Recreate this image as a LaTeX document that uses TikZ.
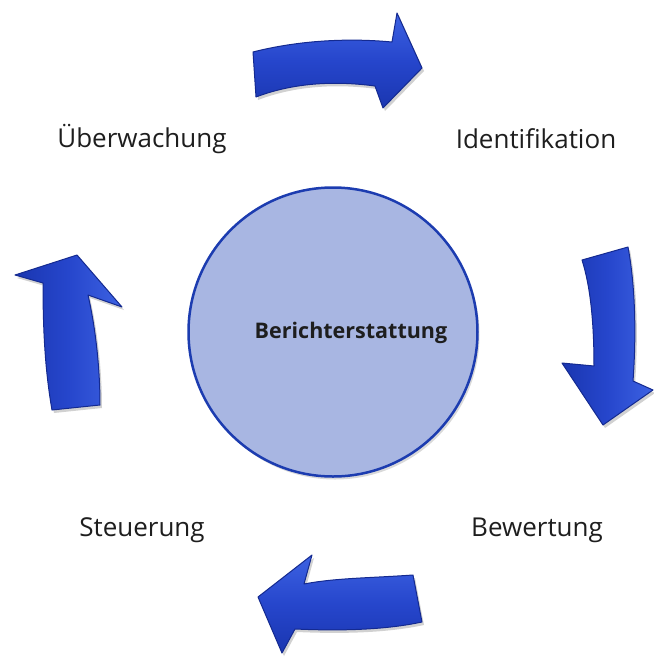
\documentclass[tikz,border=0pt]{standalone}
\usepackage{fontspec}
\setmainfont{Open Sans}
\usetikzlibrary{shadows}
\definecolor{arrowmid}{HTML}{2646CC}
\definecolor{arrowlight}{HTML}{3D62E2}
\definecolor{arrowdark}{HTML}{1A36B0}
\definecolor{arrowedge}{HTML}{142A90}
\definecolor{circfill}{HTML}{A8B6E2}
\definecolor{circedge}{HTML}{1C3CB0}
\definecolor{txt}{HTML}{1E1E1E}
\tikzset{
  bigarrow/.style={draw=arrowedge, line width=1pt, line join=round, top color=arrowlight, bottom color=arrowdark, middle color=arrowmid,
    drop shadow={shadow xshift=2pt, shadow yshift=-3pt, opacity=0.18, fill=black}},
  sidearrow/.style={bigarrow, left color=arrowdark, right color=arrowlight, middle color=arrowmid},
  label/.style={text=txt, font=\fontsize{26}{30}\selectfont, inner sep=0pt},
}
\begin{document}
\begin{tikzpicture}[x=1pt,y=-1pt]
\useasboundingbox (0,0) rectangle (654,657);
% circle
\node[circle, minimum size=289pt, fill=circfill, draw=circedge, line width=2.5pt, inner sep=0pt,
  drop shadow={shadow xshift=2pt, shadow yshift=-3pt, opacity=0.15, fill=black}] (center) at (333,332) {};
\node[text=txt, font=\bfseries\fontsize{21.5}{25}\selectfont, inner sep=0pt] (ber) at (351,333) {Berichterstattung};
% labels
\node[label] (ueb) at (142,139) {Überwachung};
\node[label] (ide) at (536,139) {Identifikation};
\node[label] (bew) at (537,530) {Bewertung};
\node[label] (ste) at (142,530) {Steuerung};
% top arrow
\path[bigarrow] (253,52) .. controls (300,40) and (350,38) .. (392,42)
  -- (397,13) -- (422,68) -- (383,108) -- (375,86)
  .. controls (330,80) and (290,84) .. (256,97) -- cycle;
% right arrow
\path[sidearrow] (582,260) -- (628,247)
  .. controls (636,290) and (636,340) .. (633,381)
  -- (653,390) -- (603,425) -- (562,363) -- (594,366)
  .. controls (594,320) and (590,285) .. cycle;
% bottom arrow
\path[bigarrow] (413,575) .. controls (370,578) and (335,578) .. (304,584)
  -- (312,555) -- (258,597) -- (282,653) -- (295,629)
  .. controls (340,631) and (385,630) .. (422,622) -- cycle;
% left arrow
\path[sidearrow] (52,410)
  .. controls (45,370) and (43,330) .. (43,283)
  -- (15,275) -- (77,255) -- (122,307) -- (88,295)
  .. controls (96,330) and (100,370) .. (100,405) -- cycle;
\end{tikzpicture}
\end{document}
